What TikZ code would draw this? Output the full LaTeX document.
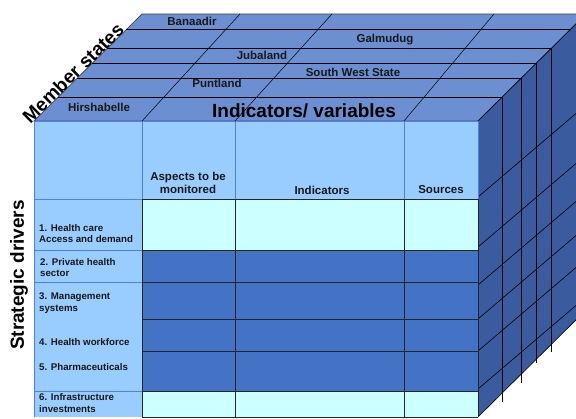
\documentclass[tikz,border=0pt]{standalone}
\usepackage{fontspec}
\setmainfont{Liberation Sans}
\usepackage{tikz}
\usetikzlibrary{positioning}

\definecolor{topface}{HTML}{6B8FD1}
\definecolor{sideface}{HTML}{3A5C9E}
\definecolor{hdrblue}{HTML}{99CCFF}
\definecolor{cellcyan}{HTML}{CCFFFF}
\definecolor{celldark}{HTML}{4472C4}
\definecolor{rimblue}{HTML}{4F7FEF}

\begin{document}
\begin{tikzpicture}[x=1pt, y=-1pt,
    slice/.style={black, line width=0.6pt},
    rim/.style={rimblue, line width=0.8pt},
    grid/.style={black!85, line width=0.7pt},
    statelabel/.style={font=\fontsize{11.5}{13}\selectfont\bfseries, text=black!90, inner sep=0pt},
    headlabel/.style={font=\fontsize{11.5}{12.5}\selectfont\bfseries, text=black!90, align=center, inner sep=0pt},
    rowlabel/.style={font=\fontsize{9.7}{11.5}\selectfont\bfseries, text=black!90, align=left, anchor=west, inner sep=0pt},
    biglabel/.style={font=\fontsize{19}{19}\selectfont\bfseries, text=black, inner sep=0pt}]
    \path[use as bounding box, clip] (0,0) rectangle (576,419);

    % corners of the cube
    \coordinate (F1) at (34,121);
    \coordinate (F2) at (478,121);
    \coordinate (F3) at (478,417);
    \coordinate (F4) at (34,417);
    \coordinate (B1) at (142,14);
    \coordinate (B2) at (586,14);
    \coordinate (B3) at (586,310);

    % top and side faces
    \filldraw[fill=topface, draw=black!70, line width=0.8pt] (F1) -- (B1) -- (B2) -- (F2) -- cycle;
    \filldraw[fill=sideface, draw=black, line width=0.6pt] (F2) -- (B2) -- (B3) -- (F3) -- cycle;

    % slices of the member states
    \foreach \d/\e in {24/402, 43/383, 58/363, 73/352} {
        \draw[slice] (34+\d,121-\d) -- (478+\d,121-\d) -- (478+\d,\e);
    }
    \draw[slice] (126,29) -- (570,29);

    % columns running back over the top
    \draw[slice, line width=0.5pt] (142,121) -- (240,14);
    \draw[slice, line width=0.5pt] (235,121) -- (332,14);
    \draw[slice, line width=0.5pt] (404,121) -- (494,14);

    % rows running back over the side
    \foreach \r in {197, 247, 285, 319, 351, 389} {
        \draw[slice] (478,\r) -- (586,\r-92);
    }

    % front face
    \fill[hdrblue] (F1) rectangle (142,417);
    \fill[hdrblue] (142,121) rectangle (478,199);
    \fill[cellcyan] (142,199) rectangle (478,250);
    \fill[celldark] (142,250) rectangle (478,391);
    \fill[cellcyan] (142,391) rectangle (F3);

    \draw[rim] (F4) -- (F1) -- (F2);
    \draw[rim] (F2) -- (478,199);
    \foreach \x in {142, 235, 404} {
        \draw[rim] (\x,121) -- (\x,199);
    }
    \foreach \y in {199, 250, 282, 391} {
        \draw[rim] (34,\y) -- (142,\y);
    }
    \foreach \x in {142, 235, 404, 478} {
        \draw[grid] (\x,199) -- (\x,417);
    }
    \foreach \y in {199, 250, 282, 319, 351, 391, 417} {
        \draw[grid] (142,\y) -- (478,\y);
    }

    % member states
    \node[statelabel] (banaadir) at (192,21) {Banaadir};
    \node[statelabel] (galmudug) at (385,40) {Galmudug};
    \node[statelabel] (jubaland) at (262,55) {Jubaland};
    \node[statelabel] (southwest) at (353,72) {South West State};
    \node[statelabel] (puntland) at (217,83) {Puntland};
    \node[statelabel] (hirshabelle) at (99,107) {Hirshabelle};

    % axis titles
    \node[biglabel] (indvar) at (304,111) {Indicators/ variables};
    \node[biglabel, rotate=44.5] (members) at (73,73) {Member states};
    \node[biglabel, rotate=90] (drivers) at (19,275) {Strategic drivers};

    % column heads
    \node[headlabel] (aspects) at (188,183) {Aspects to be\\monitored};
    \node[headlabel] (indicators) at (322,190) {Indicators};
    \node[headlabel] (sources) at (441,190) {Sources};

    % strategic drivers
    \node[rowlabel] (drv1) at (39,233.5) {1. Health care\\Access and demand};
    \node[rowlabel] (drv2) at (40,267.5) {2. Private health\\sector};
    \node[rowlabel] (drv3) at (39,303) {3. Management\\systems};
    \node[rowlabel] (drv4) at (39,342) {4. Health workforce};
    \node[rowlabel] (drv5) at (39,367) {5. Pharmaceuticals};
    \node[rowlabel] (drv6) at (39,403) {6. Infrastructure\\investments};
\end{tikzpicture}
\end{document}
